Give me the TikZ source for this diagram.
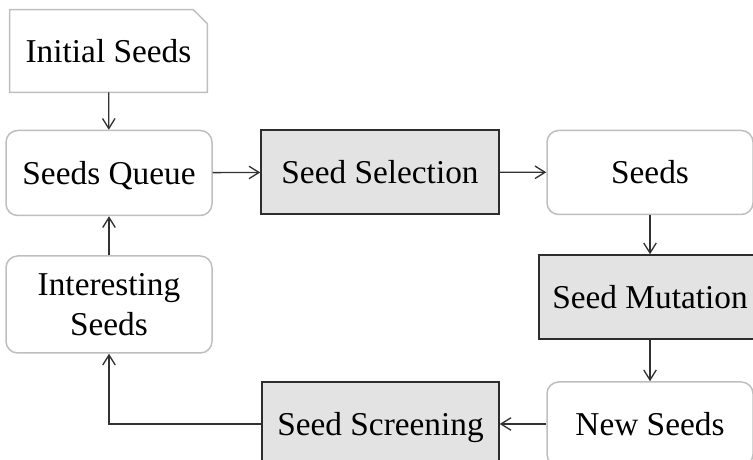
\documentclass[tikz,border=0pt]{standalone}
\usepackage{fontspec}
\setmainfont{Liberation Serif}
\usepackage{tikz}
\usetikzlibrary{arrows.meta}

\begin{document}
\begin{tikzpicture}[x=0.6pt,y=0.6pt,yscale=-1,xscale=1,
  softbox/.style={draw={rgb, 255:red, 190; green, 190; blue, 190 }, line width=0.9pt, rounded corners=7pt, inner sep=0pt, align=center, font=\fontsize{20}{24}\selectfont},
  stagebox/.style={draw={rgb, 255:red, 45; green, 45; blue, 45 }, fill={rgb, 255:red, 227; green, 227; blue, 227 }, line width=0.9pt, inner sep=0pt, align=center, font=\fontsize{20}{24}\selectfont, oneline},
  oneline/.style={text height=16pt, text depth=2.4pt},
  flow/.style={draw={rgb, 255:red, 50; green, 50; blue, 50 }, line width=0.8pt, -{Straight Barb[length=6pt,width=7.5pt]}}]
\useasboundingbox (0,0) rectangle (753,460);
\clip (0,0) rectangle (753,460);

% Text Node
\node [inner sep=0pt, minimum width=118.2pt, minimum height=49.2pt, font=\fontsize{20}{24}\selectfont, oneline] (init) at (108.5,51) {Initial Seeds};
%Shape: Folded Corner
\draw [color={rgb, 255:red, 190; green, 190; blue, 190 }, line width=0.9pt] (init.south west) -- (init.north west) -- ([xshift=-8.4pt]init.north east) -- ([yshift=8.4pt]init.north east) -- (init.south east) -- cycle;

%Shape: Rounded Rect
\node [softbox, oneline, minimum width=123.6pt, minimum height=51pt] (queue) at (109,173) {Seeds Queue};
%Shape: Rectangle
\node [stagebox, minimum width=142.8pt, minimum height=50.4pt] (select) at (380,172) {Seed Selection};
%Shape: Rounded Rect
\node [softbox, oneline, minimum width=123.6pt, minimum height=50.4pt] (seeds) at (650,172.5) {Seeds};
%Shape: Rectangle
\node [stagebox, minimum width=133.2pt, minimum height=50.4pt] (mutate) at (650,297) {Seed Mutation};
%Shape: Rounded Rect
\node [softbox, oneline, minimum width=123.6pt, minimum height=50.4pt] (fresh) at (650,424) {New Seeds};
%Shape: Rectangle
\node [stagebox, minimum width=142.2pt, minimum height=50.4pt] (screen) at (380.5,424) {Seed Screening};
%Shape: Rounded Rect
\node [softbox, minimum width=123.6pt, minimum height=58.2pt] (interest) at (109,304.5) {Interesting\\Seeds};

%Straight Lines
\draw [flow] (init) -- (queue);
\draw [flow] (queue) -- (select);
\draw [flow] (select) -- (seeds);
\draw [flow] (seeds) -- (mutate);
\draw [flow] (mutate) -- (fresh);
\draw [flow] (fresh) -- (screen);
\draw [flow] (screen.west) -| (interest.south);
\draw [flow] (interest) -- (queue);

\end{tikzpicture}
\end{document}
